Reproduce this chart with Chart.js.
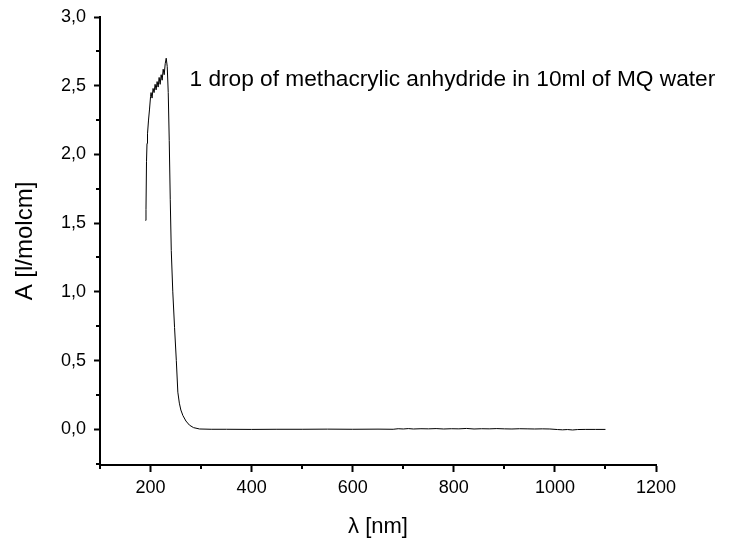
<!DOCTYPE html>
<html lang="">
  <head>
    <meta charset="utf-8">
    <title>UV-Vis spectrum</title>
    <style>
      html, body { margin: 0; padding: 0; background: #fff; }
    </style>
  </head>
  <body>
    <canvas id="myChart" width="733" height="543"></canvas>

    <script src="https://cdn.jsdelivr.net/npm/chart.js@4.4.0/dist/chart.umd.min.js"></script>
    <script>
      // wavelength [nm] and absorbance
      const wavelength = [
        190, 191, 192, 193, 194, 196, 198, 200, 201, 203, 205, 207, 209, 211, 213, 215,
        217, 219, 221, 223, 225, 227, 229, 231, 233, 235, 237, 239, 241, 244, 247.5, 251,
        254, 257, 260, 264, 270, 277, 285, 297, 320, 350, 400, 450, 500, 550, 600, 650,
        680, 690, 700, 710, 720, 735, 750, 765, 780, 795, 810, 825, 840, 855, 870, 885,
        900, 915, 930, 945, 960, 975, 990, 1005, 1015, 1025, 1035, 1045, 1060, 1080, 1100
      ];
      const absorbance = [
        1.52, 1.60, 1.95, 2.08, 2.15, 2.25, 2.33, 2.42, 2.45, 2.41, 2.48, 2.45, 2.51, 2.47, 2.53, 2.49,
        2.56, 2.51, 2.58, 2.54, 2.62, 2.58, 2.66, 2.70, 2.64, 2.45, 2.10, 1.67, 1.30, 1.00, 0.74, 0.50,
        0.27, 0.19, 0.14, 0.10, 0.06, 0.03, 0.012, 0.002, 0.0, 0.0, -0.001, 0.0, 0.0, 0.001, 0.0, 0.001,
        0.0, 0.004, 0.002, 0.005, 0.002, 0.004, 0.003, 0.005, 0.002, 0.004, 0.003, 0.006, 0.002, 0.004, 0.003, 0.005,
        0.003, 0.002, 0.004, 0.003, 0.002, 0.003, 0.002, -0.002, -0.004, -0.002, -0.005, -0.002, -0.001, -0.001, -0.001
      ];

      const xMajorTicks = [200, 400, 600, 800, 1000, 1200];
      const xMinorTicks = [100, 300, 500, 700, 900, 1100];
      const yMajorTicks = [0, 0.5, 1.0, 1.5, 2.0, 2.5, 3.0];
      const yMinorTicks = [-0.25, 0.25, 0.75, 1.25, 1.75, 2.25, 2.75];

      const note = '1 drop of methacrylic anhydride in 10ml of MQ water';
      const noteAt = [277, 2.54];

      const fontFamily = '"Liberation Sans", Arial, sans-serif';

      // short ticks between the labelled ones, plus the text label
      const extras = {
        id: 'extras',
        afterDraw(chart) {
          const ctx = chart.ctx;
          const x = chart.scales.x, y = chart.scales.y;
          ctx.save();
          ctx.strokeStyle = '#000';
          ctx.lineWidth = 2;
          ctx.beginPath();
          xMinorTicks.forEach(v => {
            const px = Math.round(x.getPixelForValue(v));
            ctx.moveTo(px, y.bottom);
            ctx.lineTo(px, y.bottom + 4);
          });
          yMinorTicks.forEach(v => {
            const py = Math.round(y.getPixelForValue(v));
            ctx.moveTo(x.left, py);
            ctx.lineTo(x.left - 4, py);
          });
          ctx.stroke();

          ctx.fillStyle = '#000';
          ctx.font = '22.7px ' + fontFamily;
          ctx.textBaseline = 'middle';
          ctx.textAlign = 'left';
          ctx.fillText(note, x.getPixelForValue(noteAt[0]), y.getPixelForValue(noteAt[1]));
          ctx.restore();
        }
      };

      function noPad(scale) {
        scale.paddingTop = 0;
        scale.paddingBottom = 0;
        scale.paddingLeft = 0;
        scale.paddingRight = 0;
      }

      const ctx = document.getElementById('myChart').getContext('2d');
      const chart = new Chart(ctx, {
        type: 'line',
        data: {
          labels: wavelength,
          datasets: [{
            data: wavelength.map((w, i) => ({ x: w, y: absorbance[i] })),
            borderColor: '#000',
            borderWidth: 1,
            pointRadius: 0,
            fill: false,
            tension: 0
          }]
        },
        options: {
          responsive: false,
          animation: false,
          layout: { padding: { top: 17, right: 77, left: 0, bottom: 0 } },
          plugins: {
            legend: { display: false },
            tooltip: { enabled: false }
          },
          scales: {
            x: {
              type: 'linear',
              min: 100,
              max: 1200,
              afterBuildTicks: s => { s.ticks = xMajorTicks.map(v => ({ value: v })); },
              afterFit: s => { s.height = 78; noPad(s); },
              border: { display: true, color: '#000', width: 2 },
              grid: { drawOnChartArea: false, color: '#000', tickLength: 7, tickWidth: 2 },
              ticks: {
                color: '#000',
                padding: 5,
                maxRotation: 0,
                font: { family: fontFamily, size: 18 },
                callback: v => String(v)
              },
              title: {
                display: true,
                text: 'λ [nm]',
                color: '#000',
                font: { family: fontFamily, size: 22 },
                padding: { top: 3, bottom: 3 }
              }
            },
            y: {
              min: -0.26,
              max: 3.0,
              afterBuildTicks: s => { s.ticks = yMajorTicks.map(v => ({ value: v })); },
              afterFit: s => { s.width = 100; noPad(s); },
              border: { display: true, color: '#000', width: 2 },
              grid: { drawOnChartArea: false, color: '#000', tickLength: 6, tickWidth: 2 },
              ticks: {
                color: '#000',
                padding: 8,
                font: { family: fontFamily, size: 18 },
                callback: v => v.toFixed(1).replace('.', ',')
              },
              title: {
                display: true,
                text: 'A [l/molcm]',
                color: '#000',
                font: { family: fontFamily, size: 24 },
                padding: { top: 11, bottom: 11 }
              }
            }
          }
        },
        plugins: [extras]
      });
    </script>
  </body>
</html>
